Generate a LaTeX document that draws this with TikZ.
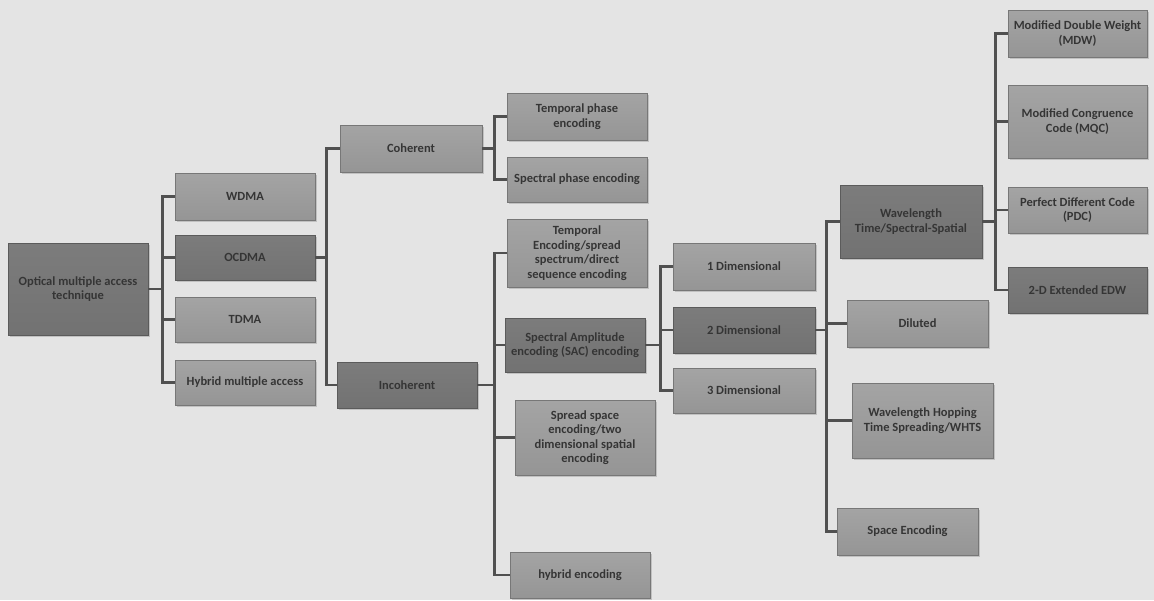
\documentclass[tikz,border=0pt]{standalone}
\usepackage{fontspec}
\setmainfont{Carlito}
\usetikzlibrary{shadows}
\definecolor{bg}{HTML}{E4E4E4}
\definecolor{boxL}{HTML}{959595}
\definecolor{boxLt}{HTML}{A4A4A4}
\definecolor{boxD}{HTML}{727272}
\definecolor{boxDt}{HTML}{7C7C7C}
\definecolor{txt}{HTML}{353535}
\definecolor{wire}{HTML}{505050}
\tikzset{
  lbox/.style={draw=boxL!80!black, line width=0.6pt, top color=boxLt, bottom color=boxL,
    inner sep=1pt, align=center, text=txt, font=\bfseries\fontsize{12.5}{14.5}\selectfont,
    drop shadow={shadow xshift=1.5pt, shadow yshift=-1.5pt, opacity=0.35}},
  dbox/.style={lbox, top color=boxDt, bottom color=boxD, draw=boxD!80!black},
  conn/.style={draw=wire, line width=2.4pt, line join=miter}
}
\begin{document}
\begin{tikzpicture}[x=1pt,y=-1pt]
\fill[bg] (0,0) rectangle (1154,600);
\useasboundingbox (0,0) rectangle (1154,600);

% nodes
\node[dbox, minimum width=140, minimum height=92] (root) at (78,289) {Optical multiple access\\technique};
\node[lbox, minimum width=140, minimum height=47] (wdma) at (245,196.5) {WDMA};
\node[dbox, minimum width=140, minimum height=45] (ocdma) at (245,257.5) {OCDMA};
\node[lbox, minimum width=140, minimum height=45] (tdma) at (245,319.5) {TDMA};
\node[lbox, minimum width=140, minimum height=45] (hyb) at (245,382.5) {Hybrid multiple access};

\node[lbox, minimum width=142, minimum height=47] (coh) at (411,148.5) {Coherent};
\node[dbox, minimum width=140, minimum height=46] (inc) at (407,385) {Incoherent};

\node[lbox, minimum width=140, minimum height=47] (tpe) at (577,116.5) {Temporal phase\\encoding};
\node[lbox, minimum width=140, minimum height=45] (spe) at (577,179.5) {Spectral phase encoding};
\node[lbox, minimum width=140, minimum height=68] (ten) at (577,253) {Temporal\\Encoding/spread\\spectrum/direct\\sequence encoding};
\node[dbox, minimum width=140, minimum height=54] (sac) at (575,345) {Spectral Amplitude\\encoding (SAC) encoding};
\node[lbox, minimum width=140, minimum height=75] (ssp) at (585,437.5) {Spread space\\encoding/two\\dimensional spatial\\encoding};
\node[lbox, minimum width=140, minimum height=46] (hen) at (580,575) {hybrid encoding};

\node[lbox, minimum width=142, minimum height=47] (d1) at (744,266.5) {1 Dimensional};
\node[dbox, minimum width=142, minimum height=46] (d2) at (744,330) {2 Dimensional};
\node[lbox, minimum width=142, minimum height=45] (d3) at (744,390.5) {3 Dimensional};

\node[dbox, minimum width=142, minimum height=73] (wts) at (911,221.5) {Wavelength\\Time/Spectral-Spatial};
\node[lbox, minimum width=141, minimum height=47] (dil) at (917.5,323.5) {Diluted};
\node[lbox, minimum width=141, minimum height=75] (wh) at (922.5,420.5) {Wavelength Hopping\\Time Spreading/WHTS};
\node[lbox, minimum width=141, minimum height=47] (spc) at (907.5,531.5) {Space Encoding};

\node[lbox, minimum width=139, minimum height=47] (mdw) at (1077.5,33.5) {Modified Double Weight\\(MDW)};
\node[lbox, minimum width=139, minimum height=73] (mqc) at (1077.5,121.5) {Modified Congruence\\Code (MQC)};
\node[lbox, minimum width=139, minimum height=46] (pdc) at (1077.5,210) {Perfect Different Code\\(PDC)};
\node[dbox, minimum width=139, minimum height=46] (edw) at (1077.5,290) {2-D Extended EDW};

% connectors
\foreach \c in {wdma,ocdma,tdma,hyb} \draw[conn] (root.east) -- ++(14,0) |- (\c.west);
\foreach \c in {coh,inc} \draw[conn] (ocdma.east) -- ++(11,0) |- (\c.west);
\foreach \c in {tpe,spe} \draw[conn] (coh.east) -- ++(12,0) |- (\c.west);
\foreach \c in {ten,sac,ssp,hen} \draw[conn] (inc.east) -- ++(17,0) |- (\c.west);
\foreach \c in {d1,d2,d3} \draw[conn] (sac.east) -- ++(15,0) |- (\c.west);
\foreach \c in {wts,dil,wh,spc} \draw[conn] (d2.east) -- ++(11,0) |- (\c.west);
\foreach \c in {mdw,mqc,pdc,edw} \draw[conn] (wts.east) -- ++(13,0) |- (\c.west);
\end{tikzpicture}
\end{document}
